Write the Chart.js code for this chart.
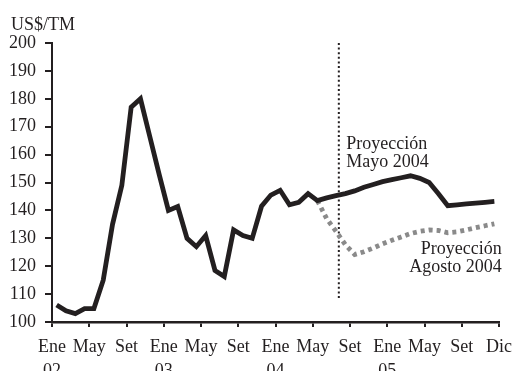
<!DOCTYPE html>
<html><head><meta charset="utf-8">
<script src="https://cdn.jsdelivr.net/npm/chart.js@4/dist/chart.umd.min.js"></script>
<style>html,body{margin:0;padding:0;background:#fff;overflow:hidden}#wrap{width:512px;height:371px;position:relative}</style>
</head><body><div id="wrap"><canvas id="c" width="512" height="371"></canvas></div>
<script>
// ---- data (monthly, Ene 02 = index 0) ----
const unitLabel = 'US$/TM';
const historical = [106.1,104,103,104.8,104.8,115,135,149,177,180,166.5,153,140,141.4,130,127,131,118.5,116.3,133,131,130,141.5,145.5,147.2,142,142.9,146,143.5];
const projStart = 28; // May 04
const projMayo = [143.5,144.5,145.3,146,147,148.3,149.3,150.3,151,151.7,152.4,151.5,150,146,141.7,142,142.3,142.6,142.9,143.2];
const projAgosto = [143.5,137,132.5,127.7,124.2,125.2,126.5,128,129.3,130.5,131.7,132.5,133,132.8,132,132.3,133,133.8,134.5,135.2];
const tickLabels = [['Ene','02'],'May','Set',['Ene','03'],'May','Set',['Ene','04'],'May','Set',['Ene','05'],'May','Set','Dic'];
const yTicks = [100,110,120,130,140,150,160,170,180,190,200];
const cutoffMonth = 30.8;
const cutoffRange = [108.6, 200];
const notes = [
  {lines:['Proyección','Mayo 2004'], x:31.6, y:162.1, align:'left'},
  {lines:['Proyección','Agosto 2004'], x:48.3, y:124.4, align:'right'}
];

const INK = '#231f20';
const GRAY = '#8a8a8a';
const FONT = '"Liberation Serif", "Times New Roman", serif';

const toPts = (arr, start) => arr.map((v, i) => ({x: start + i + 0.5, y: v}));

const textPlugin = {
  id: 'texts',
  afterDraw(chart) {
    const {ctx, scales: {x, y}} = chart;
    ctx.save();
    ctx.fillStyle = INK;
    ctx.font = '18px ' + FONT;
    ctx.textBaseline = 'alphabetic';
    ctx.textAlign = 'left';
    ctx.fillText(unitLabel, 11, 29.5);
    notes.forEach(n => {
      ctx.textAlign = n.align;
      const px = x.getPixelForValue(n.x);
      const py = y.getPixelForValue(n.y);
      n.lines.forEach((t, k) => ctx.fillText(t, px, py + k * 18.5));
    });
    ctx.restore();
  }
};

new Chart(document.getElementById('c'), {
  type: 'line',
  data: {
    datasets: [
      {data: toPts(historical, 0).concat(toPts(projMayo, projStart).slice(1)), borderColor: INK, borderWidth: 4.8, pointRadius: 0, tension: 0, borderJoinStyle: 'miter'},
      {data: toPts(projAgosto, projStart), borderColor: GRAY, borderWidth: 4.8, borderDash: [4, 4], pointRadius: 0, tension: 0},
      {data: [{x: cutoffMonth, y: cutoffRange[0]}, {x: cutoffMonth, y: cutoffRange[1]}], borderColor: INK, borderWidth: 2, borderDash: [2, 2.6], pointRadius: 0}
    ]
  },
  options: {
    responsive: false,
    animation: false,
    devicePixelRatio: 1,
    layout: {padding: {top: 43, right: 13, left: 0, bottom: 0}},
    plugins: {legend: {display: false}, tooltip: {enabled: false}, title: {display: false}},
    scales: {
      x: {
        type: 'linear', min: 0, max: 48,
        afterFit(s) { s.height = 49; s.paddingLeft = 0; s.paddingRight = 0; },
        border: {display: true, color: INK, width: 2.5},
        grid: {drawOnChartArea: false, drawTicks: true, tickLength: 5, color: INK, lineWidth: 2},
        ticks: {
          stepSize: 4, autoSkip: false, maxRotation: 0, padding: 9, color: INK,
          font: {family: FONT, size: 18, lineHeight: 1.3},
          callback: v => tickLabels[Math.round(v / 4)]
        }
      },
      y: {
        min: 100, max: 200,
        afterFit(s) { s.width = 52; s.paddingTop = 0; s.paddingBottom = 0; },
        border: {display: true, color: INK, width: 2},
        grid: {drawOnChartArea: false, drawTicks: true, tickLength: 7, color: INK, lineWidth: 2},
        afterBuildTicks(s) { s.ticks = yTicks.map(v => ({value: v})); },
        ticks: {padding: 9, color: INK, font: {family: FONT, size: 18}}
      }
    }
  },
  plugins: [textPlugin]
});
</script></body></html>
